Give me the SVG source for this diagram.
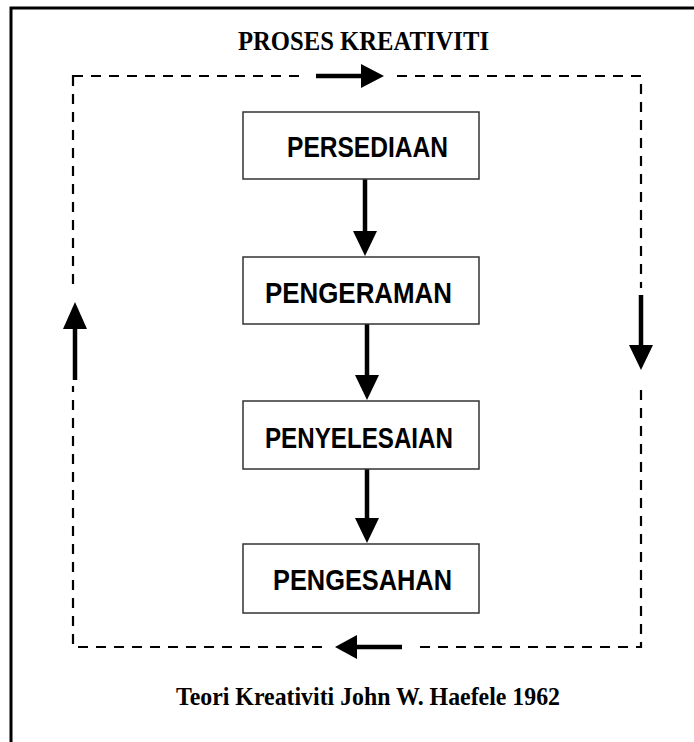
<svg xmlns="http://www.w3.org/2000/svg" width="694" height="742" viewBox="0 0 694 742">
<style>
.box{fill:#fff;stroke:#333;stroke-width:1.5}
.lbl{font-family:"Liberation Sans",Arial,sans-serif;font-weight:bold;font-size:30px;fill:#000}
.ser{font-family:"Liberation Serif","Times New Roman",serif;font-weight:bold;fill:#000}
.dash{fill:none;stroke:#000;stroke-width:2.2;stroke-dasharray:10 8}
.shaft{stroke:#000;stroke-width:4.5;fill:none}
.head{fill:#000}
</style>
<rect width="694" height="742" fill="#fff"/>
<polyline points="11,742 11,8 694,8" fill="none" stroke="#000" stroke-width="3"/>
<text class="ser" x="238" y="50" font-size="27" textLength="251" lengthAdjust="spacingAndGlyphs">PROSES KREATIVITI</text>
<text class="ser" x="176" y="705" font-size="26" textLength="384" lengthAdjust="spacingAndGlyphs">Teori Kreativiti John W. Haefele 1962</text>
<g id="connectors">
  <rect class="dash" x="73" y="76" width="568" height="571"/>
  <rect x="300" y="64" width="96" height="24" fill="#fff"/>
  <line class="shaft" x1="316" y1="76" x2="364" y2="76"/>
  <polygon class="head" points="361,64 384,76 361,88"/>
  <rect x="322" y="635" width="92" height="24" fill="#fff"/>
  <line class="shaft" x1="402" y1="647" x2="354" y2="647"/>
  <polygon class="head" points="357,635 335,647 357,659"/>
  <rect x="63" y="290" width="24" height="96" fill="#fff"/>
  <line class="shaft" x1="75" y1="380" x2="75" y2="326"/>
  <polygon class="head" points="63,329 75,302 87,329"/>
  <rect x="629" y="288" width="24" height="94" fill="#fff"/>
  <line class="shaft" x1="641" y1="295" x2="641" y2="349"/>
  <polygon class="head" points="629,345 641,370 653,345"/>
  <line class="shaft" x1="365" y1="179" x2="365" y2="234"/>
  <polygon class="head" points="353,231 365,256 377,231"/>
  <line class="shaft" x1="367" y1="324" x2="367" y2="378"/>
  <polygon class="head" points="355,375 367,400 379,375"/>
  <line class="shaft" x1="367" y1="469" x2="367" y2="521"/>
  <polygon class="head" points="355,518 367,543 379,518"/>
</g>
<g id="persediaan">
  <rect class="box" x="243" y="112" width="236" height="67"/>
  <text class="lbl" x="287" y="157" textLength="161" lengthAdjust="spacingAndGlyphs">PERSEDIAAN</text>
</g>
<g id="pengeraman">
  <rect class="box" x="243" y="257" width="236" height="67"/>
  <text class="lbl" x="265" y="303" textLength="187" lengthAdjust="spacingAndGlyphs">PENGERAMAN</text>
</g>
<g id="penyelesaian">
  <rect class="box" x="243" y="401" width="236" height="68"/>
  <text class="lbl" x="265" y="448" textLength="188" lengthAdjust="spacingAndGlyphs">PENYELESAIAN</text>
</g>
<g id="pengesahan">
  <rect class="box" x="243" y="544" width="236" height="69"/>
  <text class="lbl" x="273" y="590" textLength="179" lengthAdjust="spacingAndGlyphs">PENGESAHAN</text>
</g>
</svg>
